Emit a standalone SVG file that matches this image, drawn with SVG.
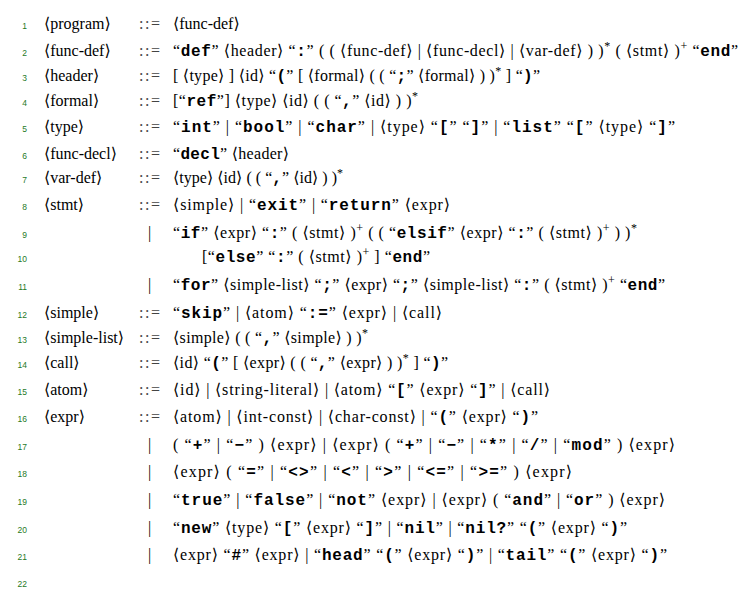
<svg xmlns="http://www.w3.org/2000/svg" width="753" height="602" viewBox="0 0 753 602">
<style>
.n{font-family:'Liberation Sans',Arial,sans-serif;font-size:8.5px;fill:#1f7a1f;text-anchor:end}
.t{font-family:'Liberation Serif','DejaVu Serif',serif;font-size:16px;fill:#000}
.d{fill:#444}
.k{font-family:'Liberation Mono','DejaVu Sans Mono',monospace;font-weight:bold}
.sp{font-size:12px}
</style>
<rect width="753" height="602" fill="#fff"/>
<g id="numbers">
<text class="n" x="27" y="29">1</text>
<text class="n" x="27" y="56">2</text>
<text class="n" x="27" y="81">3</text>
<text class="n" x="27" y="106">4</text>
<text class="n" x="27" y="132">5</text>
<text class="n" x="27" y="159">6</text>
<text class="n" x="27" y="183">7</text>
<text class="n" x="27" y="210">8</text>
<text class="n" x="27" y="238">9</text>
<text class="n" x="27" y="262">10</text>
<text class="n" x="27" y="290">11</text>
<text class="n" x="27" y="318">12</text>
<text class="n" x="27" y="343">13</text>
<text class="n" x="27" y="368">14</text>
<text class="n" x="27" y="395">15</text>
<text class="n" x="27" y="422">16</text>
<text class="n" x="27" y="450">17</text>
<text class="n" x="27" y="477">18</text>
<text class="n" x="27" y="505">19</text>
<text class="n" x="27" y="533">20</text>
<text class="n" x="27" y="560">21</text>
<text class="n" x="27" y="587">22</text>
</g>
<g id="grammar">
<g id="rule-program">
<text class="t" x="44" y="29">⟨program⟩</text>
<text class="t d" x="139" y="29" textLength="21" lengthAdjust="spacing">::=</text>
<text class="t" x="173" y="29">⟨func-def⟩</text>
</g>
<g id="rule-func-def">
<text class="t" x="44" y="56">⟨func-def⟩</text>
<text class="t d" x="139" y="56" textLength="21" lengthAdjust="spacing">::=</text>
<text class="t" x="173" y="56" textLength="565" lengthAdjust="spacing">“<tspan class="k">def</tspan>” ⟨header⟩ “<tspan class="k">:</tspan>” ( ( ⟨func-def⟩ | ⟨func-decl⟩ | ⟨var-def⟩ ) )<tspan class="sp" dy="-6">*</tspan><tspan dy="6"> ( ⟨stmt⟩ )</tspan><tspan class="sp" dy="-6">+</tspan><tspan dy="6"> “<tspan class="k">end</tspan>”</tspan></text>
</g>
<g id="rule-header">
<text class="t" x="44" y="81">⟨header⟩</text>
<text class="t d" x="139" y="81" textLength="21" lengthAdjust="spacing">::=</text>
<text class="t" x="173" y="81" textLength="367" lengthAdjust="spacing">[ ⟨type⟩ ] ⟨id⟩ “<tspan class="k">(</tspan>” [ ⟨formal⟩ ( ( “<tspan class="k">;</tspan>” ⟨formal⟩ ) )<tspan class="sp" dy="-6">*</tspan><tspan dy="6"> ] “<tspan class="k">)</tspan>”</tspan></text>
</g>
<g id="rule-formal">
<text class="t" x="44" y="106">⟨formal⟩</text>
<text class="t d" x="139" y="106" textLength="21" lengthAdjust="spacing">::=</text>
<text class="t" x="173" y="106" textLength="245" lengthAdjust="spacing">[“<tspan class="k">ref</tspan>”] ⟨type⟩ ⟨id⟩ ( ( “<tspan class="k">,</tspan>” ⟨id⟩ ) )<tspan class="sp" dy="-6">*</tspan></text>
</g>
<g id="rule-type">
<text class="t" x="44" y="132">⟨type⟩</text>
<text class="t d" x="139" y="132" textLength="21" lengthAdjust="spacing">::=</text>
<text class="t" x="173" y="132" textLength="502" lengthAdjust="spacing">“<tspan class="k">int</tspan>” | “<tspan class="k">bool</tspan>” | “<tspan class="k">char</tspan>” | ⟨type⟩ “<tspan class="k">[</tspan>” “<tspan class="k">]</tspan>” | “<tspan class="k">list</tspan>” “<tspan class="k">[</tspan>” ⟨type⟩ “<tspan class="k">]</tspan>”</text>
</g>
<g id="rule-func-decl">
<text class="t" x="44" y="159">⟨func-decl⟩</text>
<text class="t d" x="139" y="159" textLength="21" lengthAdjust="spacing">::=</text>
<text class="t" x="173" y="159" textLength="116" lengthAdjust="spacing">“<tspan class="k">decl</tspan>” ⟨header⟩</text>
</g>
<g id="rule-var-def">
<text class="t" x="44" y="183">⟨var-def⟩</text>
<text class="t d" x="139" y="183" textLength="21" lengthAdjust="spacing">::=</text>
<text class="t" x="173" y="183" textLength="170" lengthAdjust="spacing">⟨type⟩ ⟨id⟩ ( ( “<tspan class="k">,</tspan>” ⟨id⟩ ) )<tspan class="sp" dy="-6">*</tspan></text>
</g>
<g id="rule-stmt">
<text class="t" x="44" y="210">⟨stmt⟩</text>
<text class="t d" x="139" y="210" textLength="21" lengthAdjust="spacing">::=</text>
<text class="t" x="173" y="210" textLength="277" lengthAdjust="spacing">⟨simple⟩ | “<tspan class="k">exit</tspan>” | “<tspan class="k">return</tspan>” ⟨expr⟩</text>
<text class="t" x="148" y="238">|</text>
<text class="t" x="173" y="238" textLength="464" lengthAdjust="spacing">“<tspan class="k">if</tspan>” ⟨expr⟩ “<tspan class="k">:</tspan>” ( ⟨stmt⟩ )<tspan class="sp" dy="-6">+</tspan><tspan dy="6"> ( ( “<tspan class="k">elsif</tspan>” ⟨expr⟩ “<tspan class="k">:</tspan>” ( ⟨stmt⟩ )</tspan><tspan class="sp" dy="-6">+</tspan><tspan dy="6"> ) )</tspan><tspan class="sp" dy="-6">*</tspan></text>
<text class="t" x="202" y="262" textLength="228" lengthAdjust="spacing">[“<tspan class="k">else</tspan>” “<tspan class="k">:</tspan>” ( ⟨stmt⟩ )<tspan class="sp" dy="-6">+</tspan><tspan dy="6"> ] “<tspan class="k">end</tspan>”</tspan></text>
<text class="t" x="148" y="290">|</text>
<text class="t" x="173" y="290" textLength="492" lengthAdjust="spacing">“<tspan class="k">for</tspan>” ⟨simple-list⟩ “<tspan class="k">;</tspan>” ⟨expr⟩ “<tspan class="k">;</tspan>” ⟨simple-list⟩ “<tspan class="k">:</tspan>” ( ⟨stmt⟩ )<tspan class="sp" dy="-6">+</tspan><tspan dy="6"> “<tspan class="k">end</tspan>”</tspan></text>
</g>
<g id="rule-simple">
<text class="t" x="44" y="318">⟨simple⟩</text>
<text class="t d" x="139" y="318" textLength="21" lengthAdjust="spacing">::=</text>
<text class="t" x="173" y="318" textLength="269" lengthAdjust="spacing">“<tspan class="k">skip</tspan>” | ⟨atom⟩ “<tspan class="k">:=</tspan>” ⟨expr⟩ | ⟨call⟩</text>
</g>
<g id="rule-simple-list">
<text class="t" x="44" y="343">⟨simple-list⟩</text>
<text class="t d" x="139" y="343" textLength="21" lengthAdjust="spacing">::=</text>
<text class="t" x="173" y="343" textLength="195" lengthAdjust="spacing">⟨simple⟩ ( ( “<tspan class="k">,</tspan>” ⟨simple⟩ ) )<tspan class="sp" dy="-6">*</tspan></text>
</g>
<g id="rule-call">
<text class="t" x="44" y="368">⟨call⟩</text>
<text class="t d" x="139" y="368" textLength="21" lengthAdjust="spacing">::=</text>
<text class="t" x="173" y="368" textLength="275" lengthAdjust="spacing">⟨id⟩ “<tspan class="k">(</tspan>” [ ⟨expr⟩ ( ( “<tspan class="k">,</tspan>” ⟨expr⟩ ) )<tspan class="sp" dy="-6">*</tspan><tspan dy="6"> ] “<tspan class="k">)</tspan>”</tspan></text>
</g>
<g id="rule-atom">
<text class="t" x="44" y="395">⟨atom⟩</text>
<text class="t d" x="139" y="395" textLength="21" lengthAdjust="spacing">::=</text>
<text class="t" x="173" y="395" textLength="377" lengthAdjust="spacing">⟨id⟩ | ⟨string-literal⟩ | ⟨atom⟩ “<tspan class="k">[</tspan>” ⟨expr⟩ “<tspan class="k">]</tspan>” | ⟨call⟩</text>
</g>
<g id="rule-expr">
<text class="t" x="44" y="422">⟨expr⟩</text>
<text class="t d" x="139" y="422" textLength="21" lengthAdjust="spacing">::=</text>
<text class="t" x="173" y="422" textLength="365" lengthAdjust="spacing">⟨atom⟩ | ⟨int-const⟩ | ⟨char-const⟩ | “<tspan class="k">(</tspan>” ⟨expr⟩ “<tspan class="k">)</tspan>”</text>
<text class="t" x="148" y="450">|</text>
<text class="t" x="173" y="450" textLength="502" lengthAdjust="spacing">( “<tspan class="k">+</tspan>” | “<tspan class="k">−</tspan>” ) ⟨expr⟩ | ⟨expr⟩ ( “<tspan class="k">+</tspan>” | “<tspan class="k">−</tspan>” | “<tspan class="k">*</tspan>” | “<tspan class="k">/</tspan>” | “<tspan class="k">mod</tspan>” ) ⟨expr⟩</text>
<text class="t" x="148" y="477">|</text>
<text class="t" x="173" y="477" textLength="399" lengthAdjust="spacing">⟨expr⟩ ( “<tspan class="k">=</tspan>” | “<tspan class="k">&lt;&gt;</tspan>” | “<tspan class="k">&lt;</tspan>” | “<tspan class="k">&gt;</tspan>” | “<tspan class="k">&lt;=</tspan>” | “<tspan class="k">&gt;=</tspan>” ) ⟨expr⟩</text>
<text class="t" x="148" y="505">|</text>
<text class="t" x="173" y="505" textLength="492" lengthAdjust="spacing">“<tspan class="k">true</tspan>” | “<tspan class="k">false</tspan>” | “<tspan class="k">not</tspan>” ⟨expr⟩ | ⟨expr⟩ ( “<tspan class="k">and</tspan>” | “<tspan class="k">or</tspan>” ) ⟨expr⟩</text>
<text class="t" x="148" y="533">|</text>
<text class="t" x="173" y="533" textLength="454" lengthAdjust="spacing">“<tspan class="k">new</tspan>” ⟨type⟩ “<tspan class="k">[</tspan>” ⟨expr⟩ “<tspan class="k">]</tspan>” | “<tspan class="k">nil</tspan>” | “<tspan class="k">nil?</tspan>” “<tspan class="k">(</tspan>” ⟨expr⟩ “<tspan class="k">)</tspan>”</text>
<text class="t" x="148" y="560">|</text>
<text class="t" x="173" y="560" textLength="494" lengthAdjust="spacing">⟨expr⟩ “<tspan class="k">#</tspan>” ⟨expr⟩ | “<tspan class="k">head</tspan>” “<tspan class="k">(</tspan>” ⟨expr⟩ “<tspan class="k">)</tspan>” | “<tspan class="k">tail</tspan>” “<tspan class="k">(</tspan>” ⟨expr⟩ “<tspan class="k">)</tspan>”</text>
</g>
</g>
</svg>
